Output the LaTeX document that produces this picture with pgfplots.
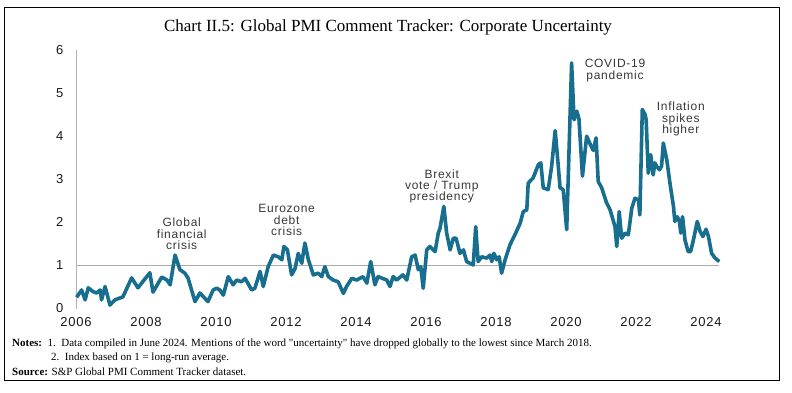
\documentclass[border=0pt]{standalone}
\usepackage{fontspec}
\setmainfont{Liberation Sans}
\newfontfamily\seriffont{Liberation Serif}
\newfontfamily\annfont[LetterSpace=6]{Liberation Sans}
\usepackage{pgfplots}
\pgfplotsset{compat=1.18}
\definecolor{pmiline}{RGB}{24,110,142}
\definecolor{annot}{RGB}{55,55,55}
\pgfplotstableread{
x y
2006.02 0.26
2006.16 0.43
2006.26 0.20
2006.35 0.48
2006.49 0.39
2006.59 0.36
2006.69 0.43
2006.73 0.20
2006.83 0.51
2006.97 0.08
2007.11 0.20
2007.34 0.27
2007.59 0.71
2007.77 0.48
2008.11 0.83
2008.20 0.38
2008.45 0.73
2008.60 0.66
2008.69 0.55
2008.83 1.24
2008.97 0.90
2009.11 0.82
2009.20 0.71
2009.40 0.16
2009.54 0.36
2009.77 0.16
2009.92 0.43
2010.02 0.47
2010.11 0.43
2010.21 0.31
2010.35 0.74
2010.49 0.55
2010.59 0.66
2010.73 0.62
2010.83 0.70
2011.02 0.43
2011.11 0.47
2011.26 0.86
2011.35 0.51
2011.49 0.97
2011.64 1.24
2011.78 1.20
2011.88 1.13
2011.94 1.44
2012.04 1.36
2012.16 0.78
2012.26 0.93
2012.35 1.28
2012.45 1.05
2012.54 1.52
2012.64 1.13
2012.78 0.78
2012.92 0.82
2013.02 0.74
2013.11 0.97
2013.21 0.74
2013.35 0.66
2013.49 0.62
2013.64 0.35
2013.73 0.51
2013.88 0.70
2014.02 0.66
2014.20 0.74
2014.31 0.59
2014.42 1.09
2014.54 0.55
2014.63 0.74
2014.88 0.66
2014.97 0.51
2015.06 0.74
2015.16 0.66
2015.34 0.78
2015.45 0.66
2015.59 1.20
2015.69 1.24
2015.78 0.90
2015.85 0.97
2015.92 0.47
2016.02 1.36
2016.11 1.44
2016.26 1.32
2016.35 1.75
2016.40 1.86
2016.51 2.37
2016.59 1.75
2016.69 1.36
2016.78 1.63
2016.86 1.63
2016.97 1.28
2017.07 1.36
2017.16 1.09
2017.35 1.01
2017.42 1.90
2017.49 1.09
2017.59 1.20
2017.73 1.17
2017.83 1.24
2017.88 1.09
2017.94 1.28
2018.02 1.13
2018.09 1.20
2018.16 0.82
2018.26 1.13
2018.40 1.48
2018.54 1.71
2018.69 1.98
2018.78 2.25
2018.88 2.29
2018.92 2.91
2019.06 3.03
2019.21 3.34
2019.28 3.38
2019.35 2.80
2019.49 2.76
2019.59 3.30
2019.69 4.13
2019.78 3.30
2019.83 2.80
2019.92 2.76
2020.02 1.83
2020.16 5.70
2020.23 4.38
2020.31 4.58
2020.37 4.40
2020.47 3.07
2020.59 4.00
2020.71 3.78
2020.78 3.67
2020.86 3.96
2020.92 2.95
2021.02 2.80
2021.16 2.45
2021.26 2.29
2021.40 1.90
2021.45 1.44
2021.52 2.25
2021.59 1.63
2021.69 1.75
2021.78 1.71
2021.88 2.33
2021.97 2.56
2022.07 2.52
2022.11 2.17
2022.18 4.62
2022.26 4.50
2022.29 4.38
2022.35 3.14
2022.42 3.57
2022.49 3.10
2022.54 3.38
2022.59 3.30
2022.67 3.22
2022.73 3.30
2022.78 3.84
2022.88 3.45
2022.97 2.91
2023.07 2.37
2023.11 2.02
2023.18 2.13
2023.24 2.02
2023.28 1.75
2023.33 2.13
2023.40 1.59
2023.49 1.32
2023.56 1.32
2023.64 1.59
2023.75 2.02
2023.83 1.79
2023.91 1.67
2024.00 1.84
2024.07 1.67
2024.16 1.28
2024.26 1.17
2024.38 1.09
}\pmidata
\begin{document}
\begin{tikzpicture}
\path[use as bounding box] (0pt,0pt) rectangle (792pt,392pt);
\draw[line width=0.9pt] (4pt,12pt) rectangle (779pt,385pt);
\node[font=\seriffont\fontsize{17}{19}\selectfont] at (388pt,365pt) {Chart II.5: Global PMI Comment Tracker: Corporate Uncertainty};
\begin{axis}[
  at={(76pt,83.5pt)}, anchor=south west,
  scale only axis, width=647.5pt, height=258.5pt,
  xmin=2006, xmax=2024.5, ymin=0, ymax=6,
  axis lines*=left,
  x axis line style={draw=none},
  y axis line style={draw=gray!60, line width=0.8pt},
  xtick={2006,2008,...,2024}, ytick={0,1,...,6},
  major tick length=0pt,
  /pgf/number format/1000 sep={},
  /pgf/number format/assume math mode=true,
  tick label style={font=\annfont\fontsize{13}{14}\selectfont, text=black!90},
  yticklabel style={xshift=-9pt},
  xticklabel style={yshift=-5pt},
  clip=false,
]
\addplot[gray!65, line width=0.8pt, forget plot] coordinates {(2006,1) (2024.38,1)};
\addplot[pmiline, line width=3.6pt, line join=round] table[x=x,y=y] {\pmidata};
\begin{scope}[every node/.style={align=center, font=\annfont\fontsize{12}{11.3}\selectfont, text=annot}]
\node at (axis cs:2009.02,1.73) {Global\\financial\\crisis};
\node at (axis cs:2012.02,2.05) {Eurozone\\debt\\crisis};
\node at (axis cs:2016.45,2.83) {Brexit\\vote / Trump\\presidency};
\node at (axis cs:2021.40,5.52) {COVID-19\\pandemic};
\node at (axis cs:2023.28,4.40) {Inflation\\spikes\\higher};
\end{scope}
\end{axis}
\begin{scope}[every node/.style={anchor=base west, inner sep=0pt, font=\seriffont\fontsize{11}{12}\selectfont}]
\node at (12pt,46pt) {\textbf{Notes:}\ \ 1.\ \ Data compiled in June 2024. Mentions of the word "uncertainty" have dropped globally to the lowest since March 2018.};
\node at (51pt,32pt) {2.\ \ Index based on 1 = long-run average.};
\node at (12pt,17pt) {\textbf{Source:} S\&P Global PMI Comment Tracker dataset.};
\end{scope}
\end{tikzpicture}
\end{document}
